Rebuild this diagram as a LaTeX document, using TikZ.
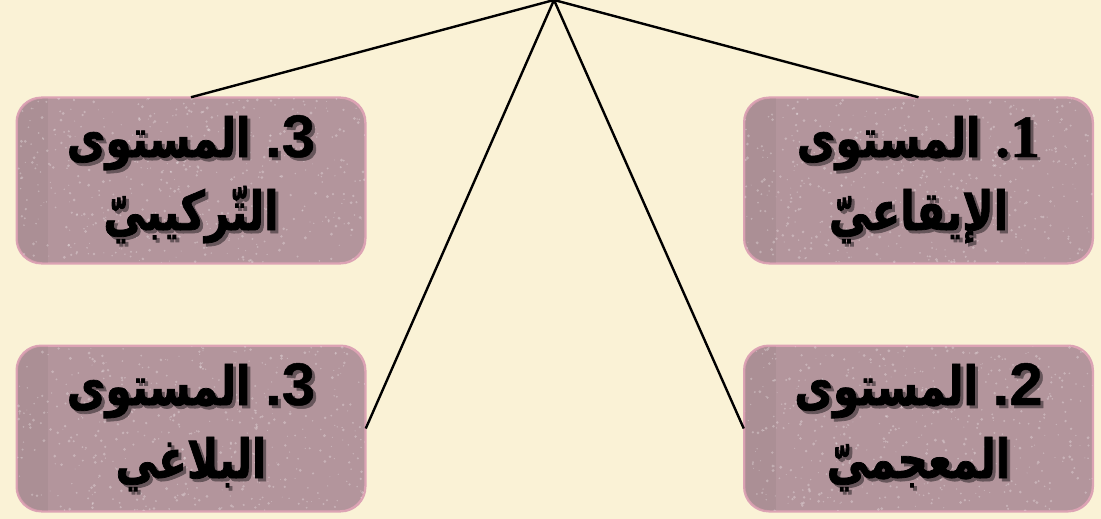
\documentclass[tikz,border=0pt]{standalone}
\usepackage{fontspec}
\TeXXeTstate=1
\newfontfamily\arabicfont[Script=Arabic,FakeStretch=0.78,FakeBold=1.4]{DejaVu Sans}
\newfontfamily\serifdig[FakeBold=0.8]{Liberation Serif}
\newfontfamily\sansdig[FakeBold=0.8]{Liberation Sans}
\definecolor{bgcol}{HTML}{FAF2D6}
\definecolor{boxfill}{HTML}{B3959C}
\definecolor{boxedge}{HTML}{DCA3B4}
\definecolor{shadowcol}{HTML}{66555A}
\newcommand\lvlword{\beginR المستوى\endR}
\newcommand\dig[2]{{#1\bfseries\fontsize{60}{60}\selectfont #2}}
% #1 box name, #2 left x, #3 top y
\newcommand\speckles[3]{%
  \begin{scope}
    \clip[rounded corners=25pt] (#1.south west) rectangle (#1.north east);
    \fill[black, opacity=0.04] (#1.south west) rectangle ([xshift=32pt]#1.north west);
    \fill[white, opacity=0.08] ([yshift=15pt]#1.north west) rectangle ([yshift=48pt]#1.north east);
    \foreach \k in {1,...,520} {
      \pgfmathsetmacro\sx{#2+348*rnd}%
      \pgfmathsetmacro\sy{#3+165*rnd}%
      \pgfmathsetmacro\sr{0.5+1.1*rnd}%
      \fill[white, opacity=0.28] (\sx,\sy) circle[radius=\sr pt];
    }
  \end{scope}}
\tikzset{
  lvlbox/.style={draw=boxedge, line width=1.5pt, fill=boxfill, rounded corners=25pt,
    minimum width=348pt, minimum height=165pt, inner sep=0pt},
  edgeline/.style={draw=boxedge, line width=1.5pt, rounded corners=25pt},
  lvltext/.style={font=\arabicfont\bfseries\fontsize{54}{66}\selectfont,
    text=black, inner sep=0pt, anchor=base},
  lvlshadow/.style={lvltext, text=shadowcol},
  link/.style={line width=2.4pt, black}
}
\begin{document}
\begin{tikzpicture}[x=1pt,y=-1pt]
\pgfmathsetseed{7}
\fill[bgcol] (0,0) rectangle (1101,519);
\useasboundingbox (0,0) rectangle (1101,519);
\coordinate (apex) at (554,0);
\node[lvlbox] (b1) at (918.5,180.5) {};
\node[lvlbox] (b3) at (191,180.5) {};
\node[lvlbox] (b4) at (191,428.5) {};
\node[lvlbox] (b2) at (918.5,428.5) {};
\speckles{b1}{744.5}{98}
\speckles{b3}{17}{98}
\speckles{b4}{17}{346}
\speckles{b2}{744.5}{346}
\draw[edgeline] (b1.south west) rectangle (b1.north east);
\draw[edgeline] (b3.south west) rectangle (b3.north east);
\draw[edgeline] (b4.south west) rectangle (b4.north east);
\draw[edgeline] (b2.south west) rectangle (b2.north east);
\draw[link] (apex) -- (b3.north);
\draw[link] (apex) -- (b1.north);
\draw[link] (apex) -- (b4.east);
\draw[link] (apex) -- (b2.west);
% shadows
\node[lvlshadow] (s1a) at ([shift={(3,3)}]b1.center |- 0,157) {\lvlword\ \dig{\serifdig}{.1}};
\node[lvlshadow] (s1b) at ([shift={(3,3)}]b1.center |- 0,230) {\beginR الإيقاعيّ\endR};
\node[lvlshadow] (s3a) at ([shift={(3,3)}]b3.center |- 0,157) {\lvlword\ \dig{\sansdig}{.3}};
\node[lvlshadow] (s3b) at ([shift={(3,3)}]b3.center |- 0,230) {\beginR التّركيبيّ\endR};
\node[lvlshadow] (s4a) at ([shift={(3,3)}]b4.center |- 0,405) {\lvlword\ \dig{\sansdig}{.3}};
\node[lvlshadow] (s4b) at ([shift={(3,3)}]b4.center |- 0,478) {\beginR البلاغي\endR};
\node[lvlshadow] (s2a) at ([shift={(3,3)}]b2.center |- 0,405) {\lvlword\ \dig{\sansdig}{.2}};
\node[lvlshadow] (s2b) at ([shift={(3,3)}]b2.center |- 0,478) {\beginR المعجميّ\endR};
% texts
\node[lvltext] (t1a) at (b1.center |- 0,157) {\lvlword\ \dig{\serifdig}{.1}};
\node[lvltext] (t1b) at (b1.center |- 0,230) {\beginR الإيقاعيّ\endR};
\node[lvltext] (t3a) at (b3.center |- 0,157) {\lvlword\ \dig{\sansdig}{.3}};
\node[lvltext] (t3b) at (b3.center |- 0,230) {\beginR التّركيبيّ\endR};
\node[lvltext] (t4a) at (b4.center |- 0,405) {\lvlword\ \dig{\sansdig}{.3}};
\node[lvltext] (t4b) at (b4.center |- 0,478) {\beginR البلاغي\endR};
\node[lvltext] (t2a) at (b2.center |- 0,405) {\lvlword\ \dig{\sansdig}{.2}};
\node[lvltext] (t2b) at (b2.center |- 0,478) {\beginR المعجميّ\endR};
\end{tikzpicture}
\end{document}
